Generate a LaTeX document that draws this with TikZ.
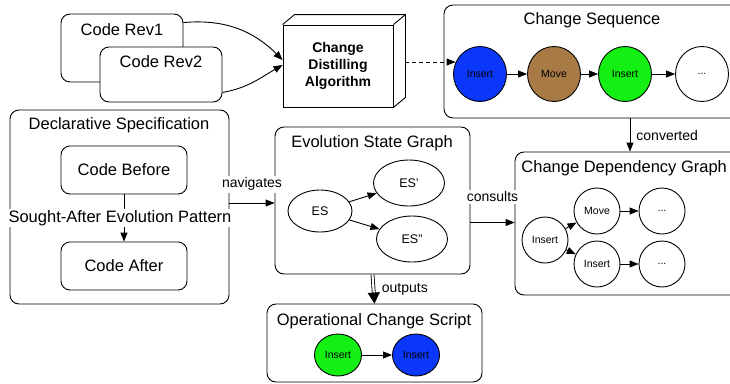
\documentclass[tikz,border=0pt]{standalone}
\usepackage{fontspec}
\setmainfont{Liberation Sans}
\usetikzlibrary{arrows.meta,shapes.geometric,positioning}
\definecolor{insertblue}{RGB}{10,55,250}
\definecolor{movebrown}{RGB}{168,122,70}
\definecolor{insertgreen}{RGB}{20,240,20}

\begin{document}
\begin{tikzpicture}[x=1pt, y=-1pt, line width=0.9pt,
                        panel/.style={draw, rounded corners=9pt, fill=white},
                        title/.style={font=\fontsize{16.5}{19}\selectfont, inner sep=0pt},
                        op/.style={draw, ellipse, inner sep=0pt, font=\fontsize{10.5}{12}\selectfont},
                        state/.style={draw, ellipse, inner sep=0pt, font=\fontsize{12.5}{14}\selectfont},
                        edgelabel/.style={font=\fontsize{14}{16}\selectfont, fill=white, inner sep=2pt},
                        link/.style={-{Triangle[length=9pt,width=7pt]}}]

        \clip (0,0) rectangle (730,383);

        \node[panel, minimum width=122pt, minimum height=68pt] (rev1) at (122,48) {};
        \node[title] (rev1t) at (122,30) {Code Rev1};
        \node[panel, minimum width=122pt, minimum height=55pt] (rev2) at (161,74.5) {};
        \node[title] (rev2t) at (161,62) {Code Rev2};

        \node[draw, fill=white, minimum width=110pt, minimum height=82pt, align=center,
              font=\bfseries\fontsize{14}{16.7}\selectfont] (algo) at (338,66)
              {Change\\Distilling\\Algorithm};
        \draw (algo.north west) -- ++(12,-10) -| ([xshift=12pt,yshift=10pt]algo.south east) -- (algo.south east);
        \draw (algo.north east) -- ++(12,-10);

        \draw[link] ([yshift=-9pt]rev1.north east) to[out=5, in=135] ([yshift=6pt]algo.west);
        \draw[link] ([yshift=10pt]rev2.south east) to[out=10, in=210] ([yshift=1pt]algo.west);

        \node[panel, minimum width=301pt, minimum height=113pt] (seq) at (594.5,61.5) {};
        \node[title] (seqt) at (592,20) {Change Sequence};
        \node[op, fill=insertblue, minimum width=53pt, minimum height=55pt] (s1) at (480,74) {Insert};
        \node[op, fill=movebrown, minimum width=53pt, minimum height=55pt] (s2) at (554,74) {Move};
        \node[op, fill=insertgreen, minimum width=53pt, minimum height=55pt] (s3) at (625,74) {Insert};
        \node[op, fill=white, minimum width=53pt, minimum height=55pt] (s4) at (702,74) {...};
        \draw[link] (s1) -- (s2);
        \draw[link] (s2) -- (s3);
        \draw[link] (s3) -- (s4);

        \draw[link, dash pattern=on 4pt off 3pt] ([xshift=12pt,yshift=4pt]algo.east) -- ([xshift=12pt,yshift=4pt]algo.east -| seq.west);

        \node[panel, minimum width=219pt, minimum height=194pt] (decl) at (119.5,207) {};
        \node[title] (declt) at (119,125) {Declarative Specification};
        \node[panel, minimum width=126pt, minimum height=48pt, title, inner sep=0pt] (before) at (124,170) {Code Before};
        \node[panel, minimum width=126pt, minimum height=48pt, title, inner sep=0pt] (after) at (124,266) {Code After};
        \draw[link] (before) -- (after)
            node[midway, xshift=-4pt, fill=white, inner sep=1pt, font=\fontsize{16.5}{19}\selectfont] {Sought-After Evolution Pattern};

        \node[panel, minimum width=195pt, minimum height=147pt] (esg) at (372.5,200.5) {};
        \node[title] (esgt) at (372,143) {Evolution State Graph};
        \node[state, minimum width=64pt, minimum height=42pt] (es) at (320,211) {ES};
        \node[state, minimum width=71pt, minimum height=46pt] (es1) at (409,183) {ES\symbol{39}};
        \node[state, minimum width=71pt, minimum height=46pt] (es2) at (412,239) {ES\symbol{34}};
        \draw[link] (es) -- (es1);
        \draw[link] (es) -- (es2);

        \node[panel, minimum width=230pt, minimum height=143pt] (cdg) at (630,223.5) {};
        \node[title, anchor=west] (cdgt) at (521,168) {Change Dependency Graph};
        \node[op, minimum size=46pt] (c1) at (545,240) {Insert};
        \node[op, minimum size=46pt] (c2) at (597,211) {Move};
        \node[op, minimum size=46pt] (c3) at (597,264) {Insert};
        \node[op, minimum size=46pt] (c4) at (662,211) {...};
        \node[op, minimum size=46pt] (c5) at (662,264) {...};
        \draw[link] (c1) -- (c2);
        \draw[link] (c1) -- (c3);
        \draw[link] (c2) -- (c4);
        \draw[link] (c3) -- (c5);

        \node[panel, minimum width=215pt, minimum height=78pt] (ocs) at (374.5,343) {};
        \node[title] (ocst) at (374,321) {Operational Change Script};
        \node[op, fill=insertgreen, minimum width=47pt, minimum height=42pt] (o1) at (338,355) {Insert};
        \node[op, fill=insertblue, minimum width=47pt, minimum height=42pt] (o2) at (416,355) {Insert};
        \draw[link] (o1) -- (o2);

        \draw[link] ([yshift=4pt]decl.east) -- ([yshift=4pt]decl.east -| esg.west)
            node[midway, above=10pt, edgelabel, minimum width=60pt] {navigates};
        \draw[link] ([yshift=-22pt]esg.east) -- ([yshift=-22pt]esg.east -| cdg.west)
            node[midway, above=18pt, edgelabel, minimum width=56pt] {consults};
        \draw[link] (seq.south -| cdg.north) -- (cdg.north)
            node[midway, right=4pt, edgelabel] {converted};
        \draw[line width=0.8pt, double, double distance=2.2pt, shorten >=10pt] (esg.south) -- (ocs.north);
        \draw[-{Triangle[length=11pt,width=12pt]}, line width=0.8pt, shorten <=18pt] (esg.south) -- (ocs.north)
            node[midway, right=6pt, edgelabel, fill=none] {outputs};
    \end{tikzpicture}
\end{document}
